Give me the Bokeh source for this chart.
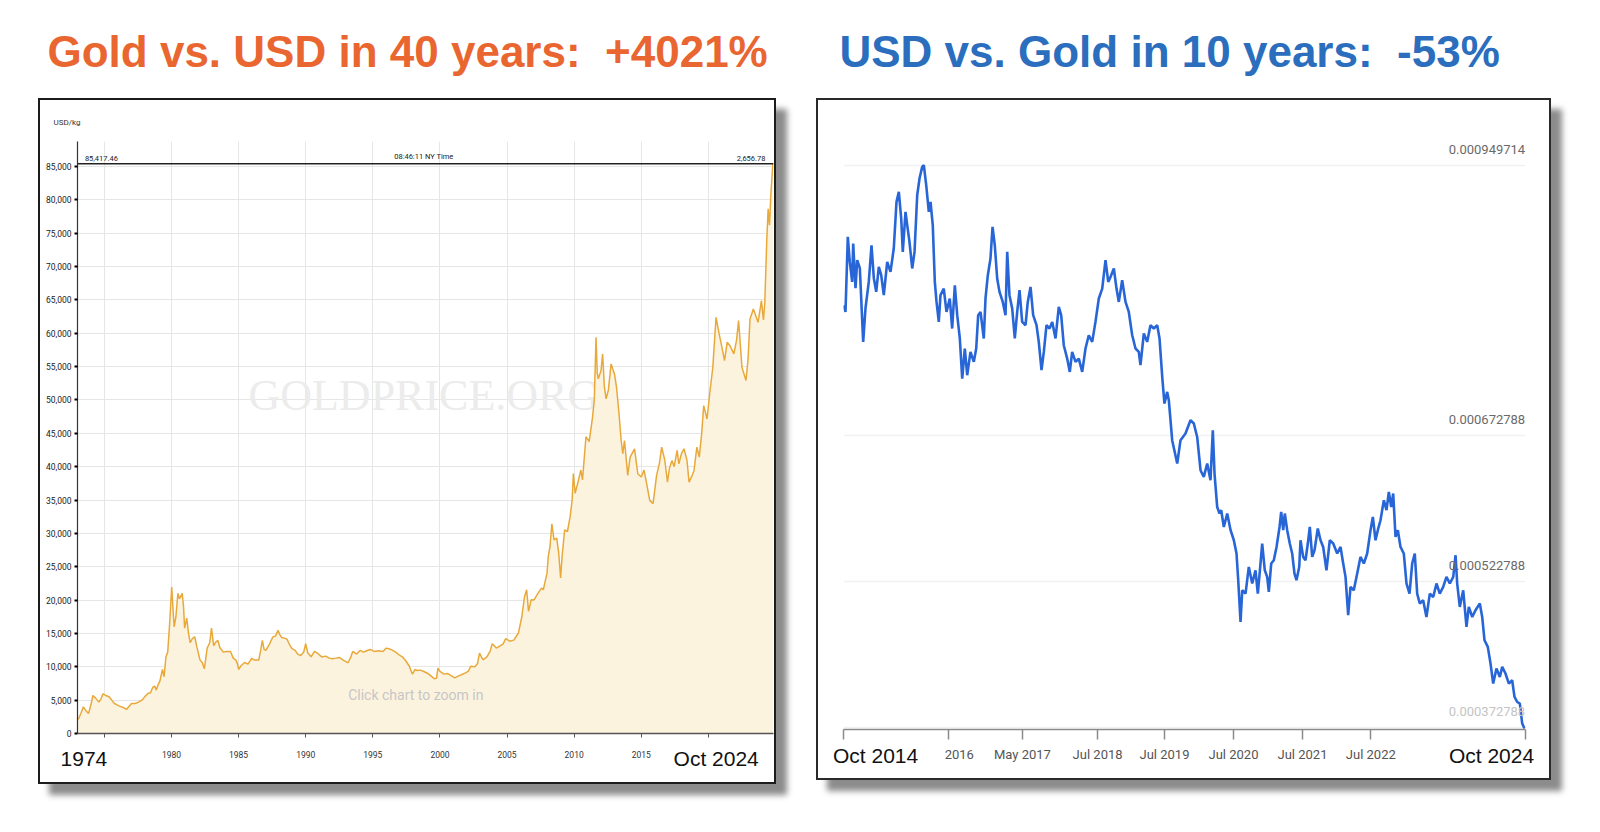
from bokeh.plotting import figure
from bokeh.layouts import row, column
from bokeh.models import Range1d, FixedTicker, Span, Spacer, NumeralTickFormatter, LinearAxis
from bokeh.core.properties import value
from bokeh.embed import file_html
from bokeh.resources import INLINE

NARROW = "Roboto"
SANS = "Liberation Sans"

# ---------------- data: gold in USD per kg (left panel) ----------------
gold_years = [
    1973.05, 1973.25, 1973.44, 1973.6, 1973.82, 1974.0, 1974.15, 1974.35, 1974.59, 1974.75,
    1974.9, 1975.1, 1975.36, 1975.55, 1975.75, 1975.95, 1976.13, 1976.4, 1976.64, 1976.85,
    1977.02, 1977.3, 1977.54, 1977.8, 1978.05, 1978.25, 1978.44, 1978.6, 1978.75, 1978.87,
    1979.0, 1979.13, 1979.33, 1979.45, 1979.59, 1979.72, 1979.85, 1980.02, 1980.12, 1980.2,
    1980.33, 1980.48, 1980.6, 1980.8, 1980.9, 1980.98, 1981.14, 1981.27, 1981.4, 1981.55,
    1981.73, 1981.9, 1982.13, 1982.3, 1982.45, 1982.66, 1982.85, 1982.98, 1983.05, 1983.14,
    1983.3, 1983.46, 1983.6, 1983.86, 1984.1, 1984.4, 1984.6, 1984.8, 1984.92, 1985.0,
    1985.2, 1985.45, 1985.7, 1985.97, 1986.2, 1986.5, 1986.65, 1986.77, 1986.9, 1987.03,
    1987.3, 1987.55, 1987.75, 1987.94, 1988.05, 1988.2, 1988.4, 1988.6, 1988.8, 1988.98,
    1989.2, 1989.4, 1989.63, 1989.85, 1990.0, 1990.15, 1990.4, 1990.66, 1990.9, 1991.2,
    1991.5, 1991.75, 1991.98, 1992.25, 1992.5, 1992.8, 1993.15, 1993.35, 1993.5, 1993.8,
    1994.06, 1994.3, 1994.55, 1994.8, 1995.1, 1995.45, 1995.75, 1996.0, 1996.2, 1996.45,
    1996.73, 1996.95, 1997.2, 1997.45, 1997.7, 1997.95, 1998.15, 1998.3, 1998.55, 1998.8,
    1999.1, 1999.35, 1999.6, 1999.75, 1999.85, 2000.0, 2000.3, 2000.55, 2000.8, 2001.1,
    2001.35, 2001.6, 2001.9, 2002.1, 2002.3, 2002.6, 2002.8, 2002.95, 2003.2, 2003.5,
    2003.75, 2003.9, 2004.2, 2004.45, 2004.7, 2004.9, 2005.2, 2005.5, 2005.85, 2006.1,
    2006.3, 2006.46, 2006.6, 2006.8, 2007.0, 2007.3, 2007.57, 2007.7, 2007.98, 2008.07,
    2008.2, 2008.34, 2008.5, 2008.7, 2008.85, 2008.99, 2009.1, 2009.29, 2009.5, 2009.7,
    2009.85, 2009.94, 2010.07, 2010.3, 2010.5, 2010.62, 2010.88, 2011.12, 2011.37, 2011.5,
    2011.63, 2011.72, 2011.8, 2012.0, 2012.12, 2012.25, 2012.38, 2012.55, 2012.75, 2013.0,
    2013.15, 2013.32, 2013.5, 2013.62, 2013.75, 2013.99, 2014.17, 2014.5, 2014.74, 2015.0,
    2015.2, 2015.38, 2015.63, 2015.88, 2016.14, 2016.35, 2016.52, 2016.75, 2016.95, 2017.1,
    2017.29, 2017.45, 2017.67, 2017.8, 2018.0, 2018.18, 2018.4, 2018.56, 2018.75, 2018.93,
    2019.14, 2019.32, 2019.5, 2019.65, 2019.9, 2020.1, 2020.33, 2020.57, 2020.8, 2021.0,
    2021.2, 2021.4, 2021.6, 2021.9, 2022.1, 2022.25, 2022.5, 2022.8, 2022.95, 2023.1,
    2023.35, 2023.7, 2023.95, 2024.1, 2024.2, 2024.35, 2024.45, 2024.55, 2024.65, 2024.8,
]
gold_usd_kg = [
    2100, 3000, 4000, 3500, 3000, 4300, 5700, 5300, 4700, 5200,
    5950, 5700, 5500, 5000, 4500, 4300, 4100, 3900, 3600, 4100,
    4500, 4500, 4700, 5000, 5600, 6000, 6100, 6900, 7100, 6500,
    7300, 7800, 9600, 8500, 11500, 12200, 16000, 21950, 18500, 16000,
    17500, 21000, 20200, 21000, 19000, 15800, 17300, 15000, 13600, 14200,
    14500, 12900, 11000, 10600, 9700, 12800, 13600, 15800, 14700, 13150,
    13700, 13950, 12900, 12200, 12300, 12300, 11300, 11000, 10400, 9600,
    10200, 10640, 10400, 11240, 11000, 11000, 12500, 13960, 12600, 12470,
    13400, 14460, 14600, 15460, 14900, 14400, 14300, 14170, 13300, 12720,
    12500, 11900, 11700, 12200, 13450, 12100, 11500, 12300, 12000, 11480,
    11600, 11300, 11220, 11300, 11400, 11000, 10600, 11400, 12300, 11900,
    12470, 12200, 12400, 12600, 12300, 12400, 12300, 12800, 12700, 12500,
    12150, 11800, 11500, 10900, 10150, 8900, 9600, 9450, 9500, 9300,
    9000, 8600, 8200, 8300, 9800, 9300, 8900, 9000, 8700, 8330,
    8600, 8800, 9080, 9300, 10080, 10000, 10500, 12040, 11050, 11500,
    12400, 13470, 12800, 13100, 13400, 14230, 13830, 14000, 15070, 17500,
    20500, 21550, 18310, 20060, 20000, 21000, 21800, 21550, 24040, 26530,
    28000, 31430, 29030, 29280, 27030, 23300, 26500, 30530, 30280, 32500,
    35000, 38970, 36020, 37800, 39500, 38000, 44490, 43750, 47430, 50000,
    59390, 54000, 53160, 54400, 56900, 52000, 50160, 51500, 55400, 53900,
    52000, 48410, 44000, 41930, 43920, 38690, 41430, 42680, 38940, 38440,
    39500, 37690, 34950, 34460, 38690, 40500, 42930, 41000, 37690, 39800,
    40930, 40000, 42430, 40430, 42000, 42680, 41000, 37690, 38500, 39440,
    42930, 41430, 45000, 49150, 47150, 51000, 54900, 62390, 59900, 58000,
    55900, 58660, 58160, 56900, 59000, 61890, 54900, 52910, 56000, 62140,
    63640, 61640, 64890, 62000, 64500, 74000, 78670, 76180, 80670, 85417,
]
gold_y_ticks = [0, 5000, 10000, 15000, 20000, 25000, 30000, 35000, 40000, 45000,
                50000, 55000, 60000, 65000, 70000, 75000, 80000, 85000]
gold_x_ticks = [1975, 1980, 1985, 1990, 1995, 2000, 2005, 2010, 2015, 2020]
gold_max = 85417.46
gold_header = ["85,417.46", "08:46:11 NY Time", "2,656.78"]
gold_period_ticks = [1973.48, 2020.58]
gold_period_labels = ["1974", "Oct 2024"]

# ---------------- data: USD in troy oz of gold (right panel) ----------------
usd_years = [
    2014.754, 2014.779, 2014.813, 2014.842, 2014.877, 2014.892, 2014.926, 2014.951, 2014.989, 2015.038,
    2015.072, 2015.120, 2015.160, 2015.194, 2015.229, 2015.267, 2015.302, 2015.340, 2015.390, 2015.438,
    2015.486, 2015.526, 2015.560, 2015.595, 2015.618, 2015.658, 2015.683, 2015.716, 2015.756, 2015.790,
    2015.829, 2015.863, 2015.902, 2015.926, 2015.961, 2015.999, 2016.024, 2016.057, 2016.087, 2016.112,
    2016.145, 2016.170, 2016.218, 2016.258, 2016.306, 2016.341, 2016.380, 2016.415, 2016.453, 2016.488,
    2016.526, 2016.561, 2016.609, 2016.658, 2016.693, 2016.722, 2016.756, 2016.804, 2016.829, 2016.863,
    2016.902, 2016.932, 2016.965, 2017.000, 2017.034, 2017.082, 2017.122, 2017.147, 2017.180, 2017.220,
    2017.258, 2017.293, 2017.327, 2017.366, 2017.415, 2017.448, 2017.488, 2017.527, 2017.576, 2017.609,
    2017.649, 2017.683, 2017.722, 2017.766, 2017.806, 2017.854, 2017.902, 2017.937, 2017.975, 2018.025,
    2018.063, 2018.098, 2018.147, 2018.195, 2018.245, 2018.293, 2018.341, 2018.391, 2018.439, 2018.488,
    2018.538, 2018.586, 2018.626, 2018.659, 2018.708, 2018.747, 2018.781, 2018.830, 2018.879, 2018.927,
    2018.977, 2019.025, 2019.073, 2019.098, 2019.147, 2019.196, 2019.244, 2019.293, 2019.343, 2019.377,
    2019.401, 2019.420, 2019.449, 2019.489, 2019.513, 2019.562, 2019.636, 2019.684, 2019.757, 2019.830,
    2019.879, 2019.928, 2019.977, 2020.025, 2020.075, 2020.123, 2020.157, 2020.182, 2020.221, 2020.255,
    2020.280, 2020.318, 2020.368, 2020.417, 2020.465, 2020.504, 2020.529, 2020.563, 2020.588, 2020.636,
    2020.684, 2020.734, 2020.782, 2020.816, 2020.855, 2020.880, 2020.918, 2020.953, 2020.977, 2021.012,
    2021.050, 2021.090, 2021.134, 2021.158, 2021.188, 2021.211, 2021.246, 2021.284, 2021.319, 2021.353,
    2021.382, 2021.422, 2021.441, 2021.480, 2021.514, 2021.548, 2021.577, 2021.612, 2021.646, 2021.694,
    2021.734, 2021.773, 2021.821, 2021.870, 2021.920, 2021.978, 2022.027, 2022.066, 2022.100, 2022.139,
    2022.173, 2022.221, 2022.271, 2022.319, 2022.368, 2022.417, 2022.466, 2022.500, 2022.539, 2022.573,
    2022.612, 2022.661, 2022.700, 2022.734, 2022.769, 2022.798, 2022.832, 2022.866, 2022.905, 2022.953,
    2022.993, 2023.037, 2023.076, 2023.114, 2023.149, 2023.187, 2023.237, 2023.285, 2023.334, 2023.384,
    2023.432, 2023.480, 2023.530, 2023.578, 2023.627, 2023.677, 2023.711, 2023.735, 2023.773, 2023.823,
    2023.871, 2023.905, 2023.955, 2024.003, 2024.066, 2024.101, 2024.135, 2024.183, 2024.223, 2024.262,
    2024.310, 2024.359, 2024.394, 2024.442, 2024.491, 2024.540, 2024.574, 2024.614, 2024.652, 2024.687,
    2024.720,
]
usd_gold_oz = [
    0.0008061, 0.0007992, 0.0008762, 0.0008505, 0.0008300, 0.0008694, 0.0008235, 0.0008523, 0.0008441, 0.0007685,
    0.0008030, 0.0008300, 0.0008676, 0.0008338, 0.0008198, 0.0008454, 0.0008369, 0.0008164, 0.0008505, 0.0008403,
    0.0008643, 0.0009121, 0.0009223, 0.0008950, 0.0008608, 0.0009018, 0.0008882, 0.0008710, 0.0008438, 0.0008608,
    0.0009189, 0.0009361, 0.0009480, 0.0009497, 0.0009292, 0.0009018, 0.0009121, 0.0008882, 0.0008300, 0.0008095,
    0.0007890, 0.0008164, 0.0008232, 0.0007992, 0.0008130, 0.0007822, 0.0008266, 0.0007959, 0.0007720, 0.0007309,
    0.0007617, 0.0007343, 0.0007582, 0.0007480, 0.0007617, 0.0007959, 0.0007992, 0.0007720, 0.0008130, 0.0008369,
    0.0008540, 0.0008864, 0.0008676, 0.0008335, 0.0008198, 0.0008095, 0.0007959, 0.0008608, 0.0008164, 0.0008027,
    0.0007720, 0.0007992, 0.0008215, 0.0007890, 0.0007856, 0.0008095, 0.0008249, 0.0007959, 0.0007856, 0.0007685,
    0.0007395, 0.0007582, 0.0007856, 0.0007822, 0.0007890, 0.0007720, 0.0008044, 0.0007959, 0.0007651, 0.0007514,
    0.0007377, 0.0007582, 0.0007480, 0.0007514, 0.0007377, 0.0007617, 0.0007753, 0.0007685, 0.0007890, 0.0008130,
    0.0008232, 0.0008523, 0.0008300, 0.0008351, 0.0008438, 0.0008232, 0.0008095, 0.0008318, 0.0008095, 0.0007992,
    0.0007753, 0.0007617, 0.0007582, 0.0007446, 0.0007771, 0.0007685, 0.0007856, 0.0007822, 0.0007856, 0.0007720,
    0.0007480, 0.0007292, 0.0007053, 0.0007172, 0.0007087, 0.0006677, 0.0006438, 0.0006677, 0.0006745, 0.0006882,
    0.0006848, 0.0006710, 0.0006369, 0.0006300, 0.0006438, 0.0006266, 0.0006779, 0.0006335, 0.0005992, 0.0005925,
    0.0005959, 0.0005787, 0.0005925, 0.0005754, 0.0005651, 0.0005515, 0.0005241, 0.0004813, 0.0005138, 0.0005104,
    0.0005377, 0.0005207, 0.0005343, 0.0005104, 0.0005412, 0.0005617, 0.0005343, 0.0005275, 0.0005121, 0.0005412,
    0.0005446, 0.0005582, 0.0005787, 0.0005941, 0.0005754, 0.0005925, 0.0005754, 0.0005617, 0.0005515, 0.0005309,
    0.0005241, 0.0005377, 0.0005651, 0.0005480, 0.0005446, 0.0005617, 0.0005787, 0.0005480, 0.0005548, 0.0005771,
    0.0005651, 0.0005582, 0.0005343, 0.0005651, 0.0005617, 0.0005515, 0.0005582, 0.0005412, 0.0005275, 0.0004882,
    0.0005172, 0.0005138, 0.0005309, 0.0005480, 0.0005412, 0.0005515, 0.0005754, 0.0005890, 0.0005651, 0.0005754,
    0.0005856, 0.0006061, 0.0005959, 0.0006146, 0.0005992, 0.0006130, 0.0005685, 0.0005754, 0.0005582, 0.0005515,
    0.0005207, 0.0005104, 0.0005412, 0.0005515, 0.0005104, 0.0005002, 0.0005036, 0.0004864, 0.0005104, 0.0005069,
    0.0005207, 0.0005104, 0.0005172, 0.0005275, 0.0005207, 0.0005275, 0.0005497, 0.0005207, 0.0004967, 0.0005138,
    0.0004762, 0.0004967, 0.0004864, 0.0004933, 0.0005002, 0.0004864, 0.0004625, 0.0004557, 0.0004386, 0.0004181,
    0.0004335, 0.0004249, 0.0004352, 0.0004284, 0.0004181, 0.0004215, 0.0004044, 0.0003992, 0.0003976, 0.0003771,
    0.0003720,
]
usd_y_ticks = [0.000949714, 0.000672788, 0.000522788, 0.000372788]
usd_y_labels = ["0.000949714", "0.000672788", "0.000522788", "0.000372788"]
usd_y_label_colors = ["#6a6a6a", "#6a6a6a", "#6a6a6a", "#c4c4c4"]
usd_x_ticks = [2014.75, 2016.28, 2017.37, 2018.47, 2019.45, 2020.46, 2021.47, 2022.47, 2024.73]
usd_x_labels = ["", "\u00a0\u00a0\u00a0\u00a0\u00a0\u00a0\u00a02016", "May 2017", "Jul 2018", "Jul 2019",
                "Jul 2020", "Jul 2021", "Jul 2022", ""]
usd_period_ticks = [2015.22, 2024.237]
usd_period_labels = ["Oct 2014", "Oct 2024"]

SHADOW = "11px 11px 6px #8c8c8c"

# ---------------- title band ----------------
title_fig = figure(width=1560, height=98, x_range=Range1d(0, 1560), y_range=Range1d(0, 98),
                   output_backend="svg", toolbar_location=None, min_border=0, title=None)
title_fig.axis.visible = False
title_fig.grid.visible = False
title_fig.outline_line_color = None
title_fig.text(x=[47], y=[47], text=["Gold vs. USD in 40 years:\u00a0 +4021%"],
               text_font=value(SANS), text_font_style="bold", text_font_size="44px",
               text_color="#ea6631", text_baseline="middle", text_align="left")
title_fig.text(x=[839], y=[47], text=["USD vs. Gold in 10 years:\u00a0 -53%"],
               text_font=value(SANS), text_font_style="bold", text_font_size="44px",
               text_color="#2a6ebd", text_baseline="middle", text_align="left")

# ---------------- left panel ----------------
left = figure(width=738, height=686, x_range=Range1d(1973.0, 2024.85), y_range=Range1d(0, 88742),
              output_backend="svg", toolbar_location=None,
              min_border_left=37, min_border_right=5, min_border_top=41, min_border_bottom=52)
left.styles = {"border": "2px solid #1c1c1c", "box-shadow": SHADOW}
left.outline_line_color = None
left.title.text = "USD/kg"
left.title.text_font = NARROW
left.title.text_font_size = "8px"
left.title.text_font_style = "normal"
left.title.text_color = "#333333"
left.title.align = "left"
left.title.offset = -24
left.title.standoff = 30

left.xaxis.ticker = FixedTicker(ticks=gold_x_ticks)
left.xaxis.major_label_overrides = {1975: "", 2020: ""}
left.xaxis.axis_line_color = "#555555"
left.xaxis.axis_line_width = 1.5
left.xaxis.major_tick_line_color = "#555555"
left.xaxis.major_tick_out = 4
left.xaxis.major_tick_in = 0
left.xaxis.minor_tick_line_color = None
left.xaxis.major_label_text_font = NARROW
left.xaxis.major_label_text_font_size = "8.5px"
left.xaxis.major_label_text_color = "#333333"
left.xaxis.major_label_standoff = 13

left_period_axis = LinearAxis(ticker=FixedTicker(ticks=gold_period_ticks),
                              major_label_overrides=dict(zip(gold_period_ticks, gold_period_labels)),
                              axis_line_color=None, major_tick_line_color=None,
                              minor_tick_line_color=None, major_label_standoff=-20,
                              major_label_text_font=SANS, major_label_text_font_size="21px",
                              major_label_text_color="#111111")
left.add_layout(left_period_axis, "below")

left.yaxis.ticker = FixedTicker(ticks=gold_y_ticks)
left.yaxis.formatter = NumeralTickFormatter(format="0,0")
left.yaxis.axis_line_color = "#333333"
left.yaxis.axis_line_width = 1.2
left.yaxis.major_tick_line_color = "black"
left.yaxis.major_tick_line_width = 2
left.yaxis.major_tick_out = 3
left.yaxis.major_tick_in = 0
left.yaxis.minor_tick_line_color = None
left.yaxis.major_label_text_font = NARROW
left.yaxis.major_label_text_font_size = "8.5px"
left.yaxis.major_label_text_color = "#222222"
left.yaxis.major_label_standoff = 3

left.xgrid.ticker = FixedTicker(ticks=gold_x_ticks)
left.ygrid.ticker = FixedTicker(ticks=gold_y_ticks)
left.xgrid.grid_line_color = "#e6e6e6"
left.ygrid.grid_line_color = "#e6e6e6"

left.text(x=[1998.8], y=[50600], text=["GOLDPRICE.ORG"], text_font=value("Liberation Serif"),
          text_font_size="44px", text_color="#ececec", text_align="center", text_baseline="middle")

left.varea(x=gold_years, y1=0, y2=gold_usd_kg, fill_color="#fcf3df")
left.line(gold_years, gold_usd_kg, line_color="#e9a93a", line_width=1.5)

left.text(x=[1998.2], y=[5700], text=["Click chart to zoom in"], text_font=value(NARROW),
          text_font_size="14px", text_color="#c6c6c6", text_align="center", text_baseline="middle")

left.add_layout(Span(location=gold_max, dimension="width", line_color="#222222", line_width=1.5))
left.text(x=[1973.55, 1998.8, 2024.25], y=[gold_max] * 3, text=gold_header,
          text_align=["left", "center", "right"], text_baseline="bottom", y_offset=-3,
          text_font=value(NARROW), text_font_size="7.5px", text_color="#222222")

# ---------------- right panel ----------------
# frame top is aligned with the left panel's frame top by the row layout
right = figure(width=735, height=682, x_range=Range1d(2014.75, 2024.735),
               y_range=Range1d(0.000371, 0.000974), title=None,
               output_backend="svg", toolbar_location=None,
               min_border_left=25, min_border_right=28, min_border_top=10, min_border_bottom=53)
right.styles = {"border": "2px solid #2a2a2a", "box-shadow": SHADOW}
right.outline_line_color = None
right.yaxis.visible = False
right.xgrid.visible = False
right.ygrid.ticker = FixedTicker(ticks=usd_y_ticks)
right.ygrid.grid_line_color = "#f1f1f1"
right.ygrid.grid_line_width = 1.5

right.xaxis.ticker = FixedTicker(ticks=usd_x_ticks)
right.xaxis.major_label_overrides = dict(zip(usd_x_ticks, usd_x_labels))
right.xaxis.axis_line_color = "#8a8a8a"
right.xaxis.axis_line_width = 1.5
right.xaxis.major_tick_line_color = "#8a8a8a"
right.xaxis.major_tick_line_width = 1.5
right.xaxis.major_tick_out = 10
right.xaxis.major_tick_in = 0
right.xaxis.minor_tick_line_color = None
right.xaxis.major_label_text_font = NARROW
right.xaxis.major_label_text_font_size = "13px"
right.xaxis.major_label_text_color = "#555555"
right.xaxis.major_label_standoff = 7

right_period_axis = LinearAxis(ticker=FixedTicker(ticks=usd_period_ticks),
                               major_label_overrides=dict(zip(usd_period_ticks, usd_period_labels)),
                               axis_line_color=None, major_tick_line_color=None,
                               minor_tick_line_color=None, major_label_standoff=-27,
                               major_label_text_font=SANS, major_label_text_font_size="21px",
                               major_label_text_color="#111111")
right.add_layout(right_period_axis, "below")

right.line(usd_years, usd_gold_oz, line_color="#2866d8", line_width=2.6)

right.text(x=[2024.73] * 4, y=usd_y_ticks, text=usd_y_labels, text_color=usd_y_label_colors,
           text_align="right", text_baseline="middle", y_offset=-16,
           text_font=value(NARROW), text_font_size="13px")

layout = column(title_fig,
                row(Spacer(width=38, height=10), left, Spacer(width=40, height=10), right))

open("out.html", "w").write(file_html(layout, INLINE))
